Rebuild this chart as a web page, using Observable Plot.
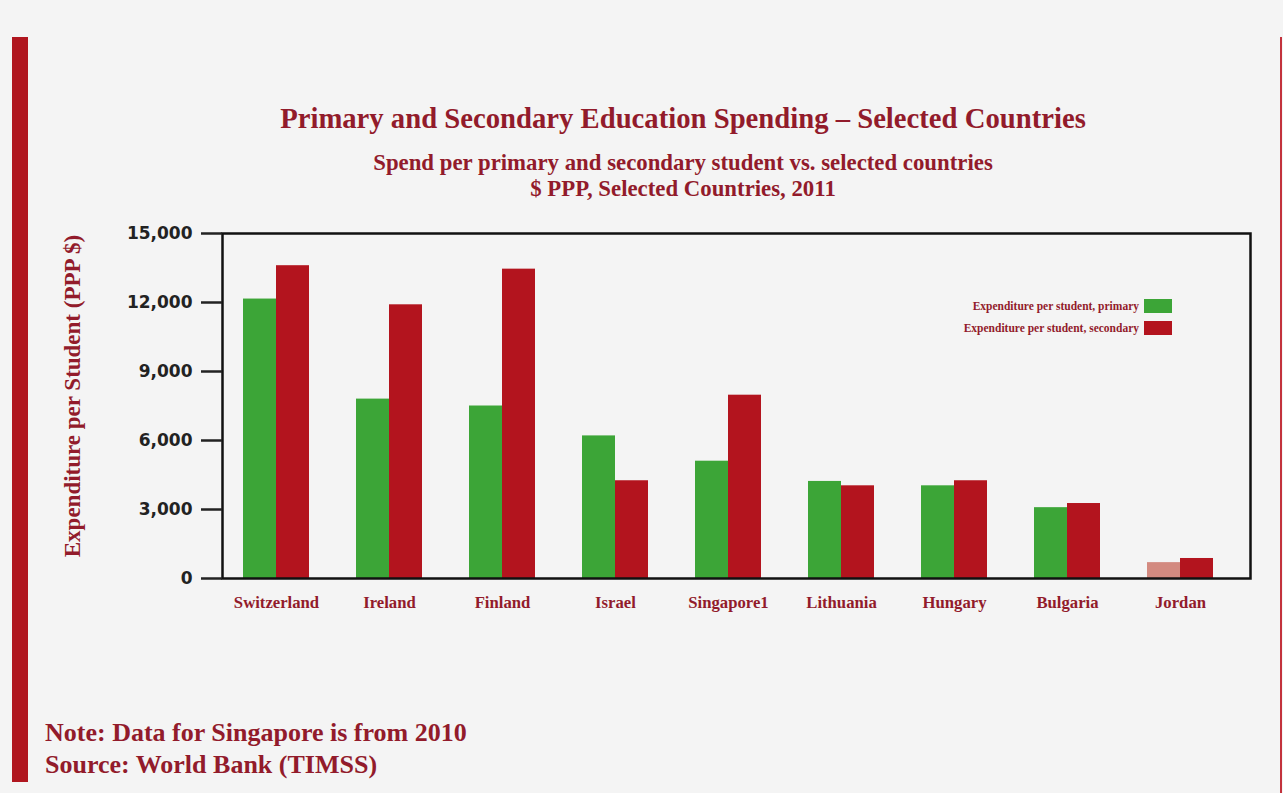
<!DOCTYPE html>
<html><head><meta charset="utf-8">
<script src="https://cdn.jsdelivr.net/npm/d3@7"></script>
<script src="https://cdn.jsdelivr.net/npm/@observablehq/plot@0.6"></script>
<style>
html,body{margin:0;padding:0;background:#f4f4f4;}
#page{position:relative;width:1283px;height:793px;overflow:hidden;background:#f4f4f4;font-family:"Liberation Serif","Times New Roman",serif;font-weight:bold;color:#921b2b;}
#leftbar{position:absolute;left:12px;top:37px;width:16px;height:745px;background:#b0161f;}
#rightbar{position:absolute;left:1280px;top:37px;width:2px;height:756px;background:#c3323c;}
#title{position:absolute;left:0;top:101px;width:1366px;text-align:center;font-size:28.7px;line-height:34px;}
#sub{position:absolute;left:0;top:150px;width:1366px;text-align:center;font-size:22.8px;line-height:26px;}
#chart{position:absolute;left:0;top:215px;}
#legend{position:absolute;left:880px;top:295px;width:292px;font-size:11.5px;}
.lg{display:flex;justify-content:flex-end;align-items:center;height:22px;}
.lg span.sw{display:inline-block;width:28px;height:14px;margin-left:5px;}
#note{position:absolute;left:45px;top:717px;font-size:26px;line-height:32px;}
</style>
</head><body>
<div id="page">
  <div id="leftbar"></div>
  <div id="rightbar"></div>
  <div id="title">Primary and Secondary Education Spending – Selected Countries</div>
  <div id="sub">Spend per primary and secondary student vs. selected countries<br>$ PPP, Selected Countries, 2011</div>
  <div id="chart"></div>
  <div id="legend"></div>
  <div id="note">Note: Data for Singapore is from 2010<br>Source: World Bank (TIMSS)</div>
</div>
<script>
const countries = ["Switzerland","Ireland","Finland","Israel","Singapore1","Lithuania","Hungary","Bulgaria","Jordan"];
const primary   = [12150, 7800, 7500, 6200, 5100, 4220, 4030, 3080, 690];
const secondary = [13600, 11900, 13450, 4250, 7970, 4030, 4250, 3260, 870];
const seriesNames = ["Expenditure per student, primary","Expenditure per student, secondary"];
const yTicks = [0, 3000, 6000, 9000, 12000, 15000];
const yLabel = "Expenditure per Student (PPP $)";

const GREEN = "#3ca537", RED = "#b3141e", FADED = "#d38a80", TEXT = "#921b2b";

const rowsP = countries.map((c, i) => ({country: c, value: primary[i], series: seriesNames[0]}));
const rowsS = countries.map((c, i) => ({country: c, value: secondary[i], series: seriesNames[1]}));

const chart = Plot.plot({
  width: 1283,
  height: 420,
  marginTop: 18,
  marginBottom: 57,
  marginLeft: 222,
  marginRight: 33,
  style: {background: "transparent", overflow: "visible"},
  x: {domain: countries, paddingInner: 0.415, paddingOuter: 0.185, insetRight: 16, label: null},
  y: {domain: [0, 15000], label: null},
  marks: [
    Plot.barY(rowsP, {x: "country", y: "value", fill: d => d.country === "Jordan" ? FADED : GREEN, insetRight: 33}),
    Plot.barY(rowsS, {x: "country", y: "value", fill: RED, insetLeft: 33}),
    Plot.frame({stroke: "#111", strokeWidth: 2.5}),
    Plot.axisY({ticks: yTicks, tickFormat: d3.format(","), tickSize: 21, tickPadding: 9, strokeWidth: 2.5,
      stroke: "#222", fill: "#222", fontSize: 17, fontFamily: "DejaVu Sans", fontWeight: "bold", label: null}),
    Plot.axisX({tickSize: 0, tickPadding: 18, fontSize: 16.7, fontFamily: "Liberation Serif", fontWeight: "bold",
      fill: TEXT, label: null}),
    Plot.text([yLabel], {frameAnchor: "left", textAnchor: "middle", rotate: -90, dx: -150, dy: -10, fontSize: 23,
      fontFamily: "Liberation Serif", fontWeight: "bold", fill: TEXT})
  ]
});
document.getElementById("chart").appendChild(chart);

const legend = document.getElementById("legend");
[[seriesNames[0], GREEN], [seriesNames[1], RED]].forEach(([name, col]) => {
  const row = document.createElement("div");
  row.className = "lg";
  const t = document.createElement("span");
  t.textContent = name;
  const sw = document.createElement("span");
  sw.className = "sw";
  sw.style.background = col;
  row.appendChild(t); row.appendChild(sw);
  legend.appendChild(row);
});
</script>
</body></html>
